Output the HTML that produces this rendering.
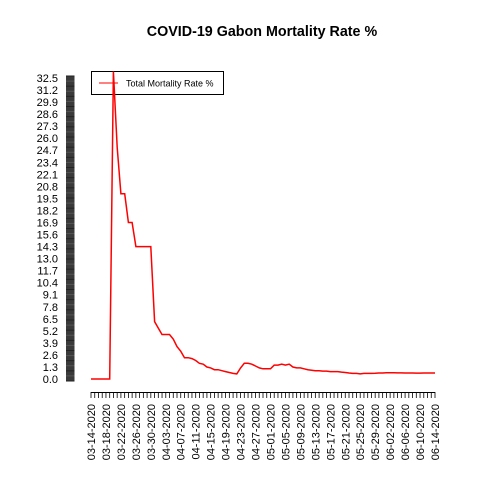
<!DOCTYPE html>
<html><head><meta charset="utf-8"><style>
body{margin:0;background:#fff}
svg text{font-family:"Liberation Sans",sans-serif}
</style></head><body>
<svg id="chart" width="480" height="480" xmlns="http://www.w3.org/2000/svg">
<rect width="480" height="480" fill="#fff"/>
<text x="262" y="36" text-anchor="middle" font-size="14.3" font-weight="bold">COVID-19 Gabon Mortality Rate %</text>
<g id="yaxis"></g>
<g id="xaxis"></g>
<g>
<rect x="91.5" y="71.5" width="132" height="23" fill="#fff" stroke="#000" stroke-width="1"/>
<line x1="99" y1="83" x2="118" y2="83" stroke="red" stroke-width="1"/>
<text x="126" y="86.5" font-size="9">Total Mortality Rate %</text>
</g>
<g id="series"></g>
</svg>
<script>
const startDate = [2020, 3, 14];
const mortality = [0,0,0,0,0,0,33.2,25,20,20,16.9,16.9,14.3,14.3,14.3,14.3,14.3,6.2,5.5,4.8,4.8,4.8,4.3,3.5,3.0,2.3,2.3,2.2,2.0,1.7,1.6,1.3,1.2,1.0,1.0,0.9,0.8,0.7,0.6,0.55,1.2,1.7,1.7,1.6,1.4,1.2,1.1,1.1,1.1,1.5,1.5,1.6,1.5,1.6,1.3,1.2,1.2,1.1,1.0,0.95,0.9,0.9,0.85,0.85,0.8,0.8,0.8,0.75,0.7,0.65,0.6,0.6,0.55,0.6,0.6,0.6,0.62,0.65,0.65,0.68,0.68,0.68,0.66,0.66,0.65,0.65,0.65,0.64,0.64,0.65,0.65,0.65,0.65];
const yTickLabels = ["0.0","1.3","2.6","3.9","5.2","6.5","7.8","9.1","10.4","11.7","13.0","14.3","15.6","16.9","18.2","19.5","20.8","22.1","23.4","24.7","26.0","27.3","28.6","29.9","31.2","32.5"];
const NS="http://www.w3.org/2000/svg";
const x0=91,x1=435,yb=379,yt=78,ymax=32.5;
const n=mortality.length;
const xs=i=>x0+(x1-x0)*i/(n-1);
const ys=v=>yb-(yb-yt)*v/ymax;
function mk(tag,at,parent){const e=document.createElementNS(NS,tag);for(const k in at)e.setAttribute(k,at[k]);parent.appendChild(e);return e;}
const ya=document.getElementById('yaxis');
const bar=mk('rect',{x:66,y:yt-2,width:8.5,height:yb-yt+4,fill:'#3a3a3a'},ya);


for(let k=0;k<=60;k++){const yy=yt-2+k*(yb-yt+4)/60;const s=mk('line',{x1:66,x2:74.5,y1:yy,y2:yy,stroke:k%2?'#555':'#222','stroke-width':1},ya);

}
yTickLabels.forEach(l=>{const t=mk('text',{x:58,y:ys(parseFloat(l))+4,'text-anchor':'end','font-size':11},ya);t.textContent=l;

});
const xa=document.getElementById('xaxis');
const al=mk('line',{x1:x0,x2:x1,y1:392.5,y2:392.5,stroke:'#000'},xa);


for(let i=0;i<n;i++){const tk=mk('line',{x1:xs(i),x2:xs(i),y1:392,y2:398,stroke:'#000','stroke-width':0.8},xa);


if(i%4===0){const d=new Date(startDate[0],startDate[1]-1,startDate[2]+i);
const lab=String(d.getMonth()+1).padStart(2,'0')+'-'+String(d.getDate()).padStart(2,'0')+'-'+d.getFullYear();
const t=mk('text',{x:0,y:0,'text-anchor':'end','font-size':11,transform:`translate(${xs(i)+4},404) rotate(-90)`},xa);t.textContent=lab;

}}
const pts=mortality.map((v,i)=>xs(i).toFixed(1)+','+ys(v).toFixed(1)).join(' ');
const pl=mk('polyline',{points:pts,fill:'none',stroke:'red','stroke-width':1.5},document.getElementById('series'));


</script>
</body></html>
